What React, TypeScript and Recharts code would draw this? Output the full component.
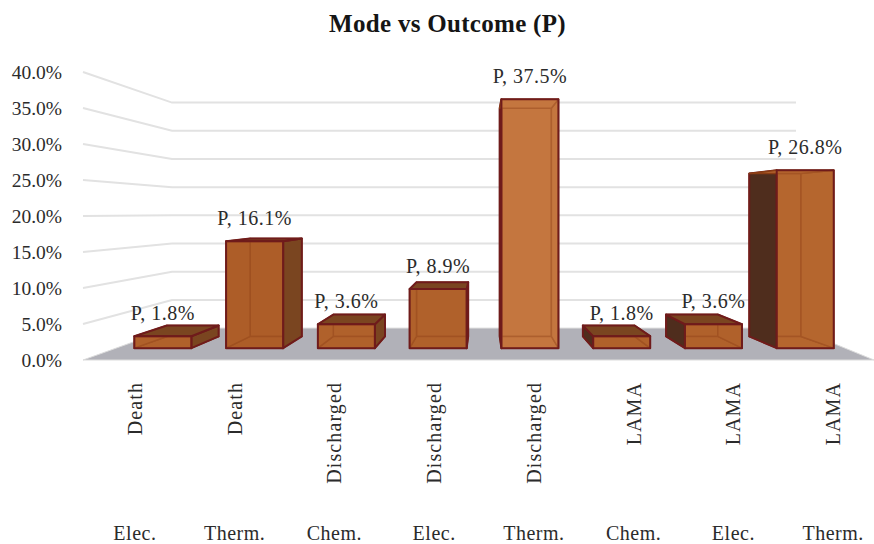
import React from "react";
import { BarChart, Bar, XAxis, YAxis, ReferenceLine, LabelList } from "recharts";

const modes = ["Elec.", "Therm.", "Chem.", "Elec.", "Therm.", "Chem.", "Elec.", "Therm."];
const outcomes = ["Death", "Death", "Discharged", "Discharged", "Discharged", "LAMA", "LAMA", "LAMA"];
const pValues = [1.8, 16.1, 3.6, 8.9, 37.5, 1.8, 3.6, 26.8];
const wallTicks = [40, 35, 30, 25, 20, 15, 10, 5];
const axisTicks = [0, 5, 10, 15, 20, 25, 30, 35, 40];

const rows = modes.map((mode, i) => ({
  key: `${outcomes[i]} ${mode} ${i}`,
  P: pValues[i],
}));

const SERIF = "'Liberation Serif', serif";
const TEXT = "#2b2b2b";
const EDGE = "#6f1b1b";
const INNER = "#8a3d14";
const FRONT = ["#b0612c", "#ad5d28", "#b0612c", "#b0612c", "#c4773f", "#b0612c", "#b0612c", "#b5662f"];

// perspective box projection
const VX = 483, VY = 208;
const FRONT_S = { x: 0.92, y: 0.922 };
const BACK_S = { x: 0.834, y: 0.845 };
const proj = (x: number, y: number, s: { x: number; y: number }): [number, number] => [
  VX + (x - VX) * s.x,
  VY + (y - VY) * s.y,
];
const pts = (a: [number, number][]) => a.map((p) => p.join(",")).join(" ");

// back wall / floor corners
const wallY = (y: number) => 213 + (y - 213) * 0.783;
const WALL_L = 172, WALL_R = 796, FRONT_L = 83, FLOOR_R = 874;

const WallLine = (p: any) => (
  <polyline
    points={`${FRONT_L},${p.y1} ${WALL_L},${wallY(p.y1)} ${WALL_R},${wallY(p.y1)}`}
    fill="none"
    stroke="#e2e2e2"
    strokeWidth={2}
  />
);

const Floor = (p: any) => (
  <polygon
    points={`${FRONT_L},${p.y1} ${FLOOR_R},${p.y1} ${WALL_R},${wallY(p.y1)} ${WALL_L},${wallY(p.y1)}`}
    fill="#b1b1b8"
    stroke="#dcdcdc"
    strokeWidth={1}
  />
);

const Box = (p: any) => {
  const { x, y, width, height, index } = p;
  const base = y + height;
  const r = x + width;
  const fa = proj(x, y, FRONT_S), fb = proj(r, y, FRONT_S), fc = proj(r, base, FRONT_S), fd = proj(x, base, FRONT_S);
  const ba = proj(x, y, BACK_S), bb = proj(r, y, BACK_S), bc = proj(r, base, BACK_S), bd = proj(x, base, BACK_S);
  const front = FRONT[index];
  const leftOut = ba[0] < fa[0];
  const rightOut = bb[0] > fb[0];
  const topSeen = ba[1] < fa[1];
  const inner = { stroke: INNER, strokeWidth: 1.5, strokeLinejoin: "round" as const };
  const outer = { stroke: EDGE, strokeWidth: 2, strokeLinejoin: "round" as const };
  return (
    <g>
      <polygon points={pts([ba, bb, bc, bd])} fill={front} {...inner} />
      <polygon points={pts([fd, fc, bc, bd])} fill={front} {...inner} />
      {leftOut ? null : <polygon points={pts([fa, ba, bd, fd])} fill={front} {...inner} />}
      {rightOut ? null : <polygon points={pts([fb, bb, bc, fc])} fill={front} {...inner} />}
      {leftOut ? <polygon points={pts([fa, ba, bd, fd])} fill="#4f2d1d" {...outer} /> : null}
      {rightOut ? <polygon points={pts([fb, bb, bc, fc])} fill="#7a4520" {...outer} /> : null}
      <polygon points={pts([fa, fb, bb, ba])} fill={topSeen ? "#7a4520" : front} {...(topSeen ? outer : inner)} />
      <polygon points={pts([fa, fb, fc, fd])} fill={front} fillOpacity={0.6} {...outer} />
    </g>
  );
};

const BoxLabel = (p: any) => {
  const { x, y, width, value } = p;
  const [cx, top] = proj(x + width / 2, y, FRONT_S);
  return (
    <text
      x={cx}
      y={top - 23}
      textAnchor="middle"
      dominantBaseline="central"
      fontFamily={SERIF}
      fontSize={20}
      letterSpacing={0.5}
      fill={TEXT}
    >
      {`P, ${value.toFixed(1)}%`}
    </text>
  );
};

const TwoLevelTick = (p: any) => {
  const { x, y, index } = p;
  return (
    <g fontFamily={SERIF} fill={TEXT}>
      <text
        transform={`translate(${x},${y + 22}) rotate(-90)`}
        textAnchor="end"
        dominantBaseline="central"
        fontSize={20}
        letterSpacing={1.1}
      >
        {outcomes[index]}
      </text>
      <text x={x} y={y + 173} textAnchor="middle" dominantBaseline="central" fontSize={20} letterSpacing={0.5}>
        {modes[index]}
      </text>
    </g>
  );
};

export default function App() {
  return (
    <div style={{ position: "absolute", left: 0, top: 0, width: 874, height: 544, overflow: "hidden", background: "#fff" }}>
      <div
        style={{
          position: "absolute",
          left: 0,
          width: 895,
          top: 10,
          textAlign: "center",
          fontFamily: SERIF,
          fontWeight: 700,
          fontSize: 25,
          lineHeight: "28px",
          color: "#151515",
          letterSpacing: 0.3,
        }}
      >
        Mode vs Outcome (P)
      </div>
      <BarChart width={891} height={544} data={rows} margin={{ top: 72, right: 8, bottom: 0, left: 0 }} barSize={62}>
        <XAxis
          dataKey="key"
          interval={0}
          height={184}
          axisLine={false}
          tickLine={false}
          tickSize={0}
          tickMargin={0}
          tick={<TwoLevelTick />}
        />
        <YAxis
          domain={[0, 40]}
          ticks={axisTicks}
          width={85}
          axisLine={false}
          tickLine={false}
          tickSize={0}
          tickMargin={23}
          tickFormatter={(v: number) => `${v.toFixed(1)}%`}
          tick={{ fontFamily: SERIF, fontSize: 19.5, fill: TEXT }}
        />
        {wallTicks.map((t) => (
          <ReferenceLine key={t} y={t} shape={<WallLine />} zIndex={-100} />
        ))}
        <ReferenceLine y={0} shape={<Floor />} zIndex={-90} />
        <Bar dataKey="P" isAnimationActive={false} shape={<Box />}>
          <LabelList dataKey="P" content={<BoxLabel />} />
        </Bar>
      </BarChart>
    </div>
  );
}
